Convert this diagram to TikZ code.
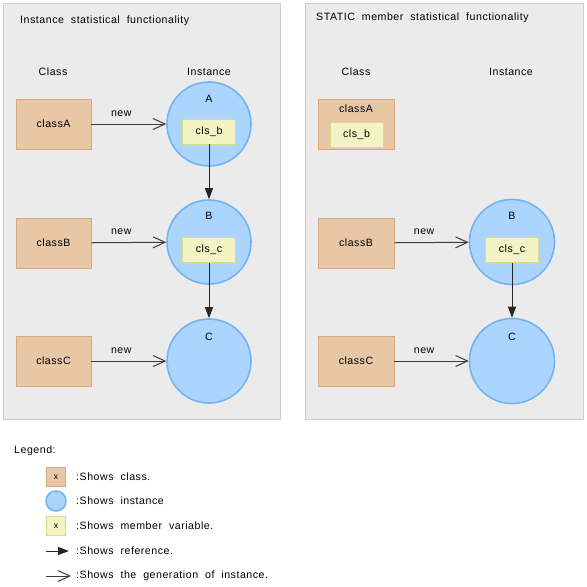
\documentclass[tikz,border=0pt]{standalone}
\usepackage{fontspec}
\setmainfont[LetterSpace=5,WordSpace=2]{Liberation Sans}
\usetikzlibrary{arrows.meta}
\definecolor{panelfill}{HTML}{EBEBEB}
\definecolor{panelline}{HTML}{CDCDCD}
\definecolor{clsfill}{HTML}{E8C7A7}
\definecolor{clsline}{HTML}{D6A97F}
\definecolor{instfill}{HTML}{ABD5FF}
\definecolor{instline}{HTML}{74B3F2}
\definecolor{membfill}{HTML}{F3F3C4}
\definecolor{membline}{HTML}{DADA8C}
\definecolor{linegray}{HTML}{3C3C3C}
\tikzset{
	panel/.style={draw=panelline,fill=panelfill,line width=0.8pt},
	cls/.style={draw=clsline,fill=clsfill,line width=0.8pt,minimum width=75pt,minimum height=50pt,inner sep=0pt},
	inst/.style={circle,draw=instline,fill=instfill,line width=1.6pt,minimum size=#1,inner sep=0pt},
	memb/.style={draw=membline,fill=membfill,line width=0.8pt,minimum width=#1,minimum height=#1,inner sep=0pt},
	newarr/.style={draw=linegray,line width=1pt,-{Straight Barb[length=12pt,width=11pt]}},
	refarr/.style={draw=black!85,line width=1pt,-{Triangle[length=11pt,width=8pt]}},
	txt/.style={inner sep=0pt}
}

\begin{document}
\begin{tikzpicture}[x=1pt,y=-1pt,every node/.append style={font=\fontsize{10.6}{12}\selectfont}]
	\useasboundingbox (0,0) rectangle (587,587);
	\draw [panel] (3,3) rectangle (280,419);
	\draw [panel] (305,3) rectangle (583,419);

	\node [txt,anchor=west] (titleL) at (20,21) {Instance statistical functionality};
	\node [txt,anchor=west] (titleR) at (316,18) {STATIC member statistical functionality};
	\node [txt] (classL) at (53,72) {Class};
	\node [txt] (instL) at (209,72) {Instance};
	\node [txt] (classR) at (356,72) {Class};
	\node [txt] (instR) at (511,72) {Instance};

	\node [cls] (classA) at (53.5,124) {classA};
	\node [cls] (classB) at (53.5,243) {classB};
	\node [cls] (classC) at (53.5,361) {classC};
	\node [inst=84pt] (A) at (209,124) {};
	\node [inst=84pt] (B) at (209,242) {};
	\node [inst=84pt] (C) at (209,361) {};
	\node [txt] (labA) at (209,99) {A};
	\node [txt] (labB) at (209,216) {B};
	\node [txt] (labC) at (209,337) {C};
	\node [memb=25pt,minimum width=53pt] (clsb) at (209,131.5) {cls\_b};
	\node [memb=25pt,minimum width=53pt] (clsc) at (209,250) {cls\_c};

	\draw [newarr] (classA) -- node [above=4pt,pos=0.4] {new} (A);
	\draw [newarr] (classB) -- node [above=4pt,pos=0.4] {new} (B);
	\draw [newarr] (classC) -- node [above=4pt,pos=0.4] {new} (C);
	\draw [refarr] (clsb) -- (B);
	\draw [refarr] (clsc) -- (C);

	\node [cls,minimum width=76pt] (classAs) at (356,124) {};
	\node [txt] (labAs) at (356,109) {classA};
	\node [memb=25pt,minimum width=53pt] (clsbs) at (356.5,134.5) {cls\_b};
	\node [cls,minimum width=76pt] (classBs) at (356,243) {classB};
	\node [cls,minimum width=76pt] (classCs) at (356,361) {classC};
	\node [inst=85pt] (Bs) at (512,242) {};
	\node [inst=85pt] (Cs) at (512,361) {};
	\node [txt] (labBs) at (512,216) {B};
	\node [txt] (labCs) at (512,337) {C};
	\node [memb=25pt,minimum width=53pt] (clscs) at (512,250) {cls\_c};

	\draw [newarr] (classBs) -- node [above=4pt,pos=0.4] {new} (Bs);
	\draw [newarr] (classCs) -- node [above=4pt,pos=0.4] {new} (Cs);
	\draw [refarr] (clscs) -- (Cs);

	\node [txt,anchor=west] (legend) at (14,451) {Legend:};
	\node [cls,minimum width=19pt,minimum height=19pt] (lgcls) at (56,477) {\fontsize{8.5}{9}\selectfont x};
	\node [inst=20pt] (lginst) at (56,501) {};
	\node [memb=19pt] (lgmemb) at (56,526) {\fontsize{8.5}{9}\selectfont x};
	\coordinate (r0) at (46,551);
	\coordinate (r1) at (69,551);
	\coordinate (g0) at (46,576);
	\coordinate (g1) at (71,576);
	\draw [refarr] (r0) -- (r1);
	\draw [newarr] (g0) -- (g1);
	\node [txt,anchor=west] (t1) at (76,477) {:Shows class.};
	\node [txt,anchor=west] (t2) at (76,501) {:Shows instance};
	\node [txt,anchor=west] (t3) at (76,526) {:Shows member variable.};
	\node [txt,anchor=west] (t4) at (76,551) {:Shows reference.};
	\node [txt,anchor=west] (t5) at (76,576) {:Shows the generation of instance.};
\end{tikzpicture}
\end{document}
